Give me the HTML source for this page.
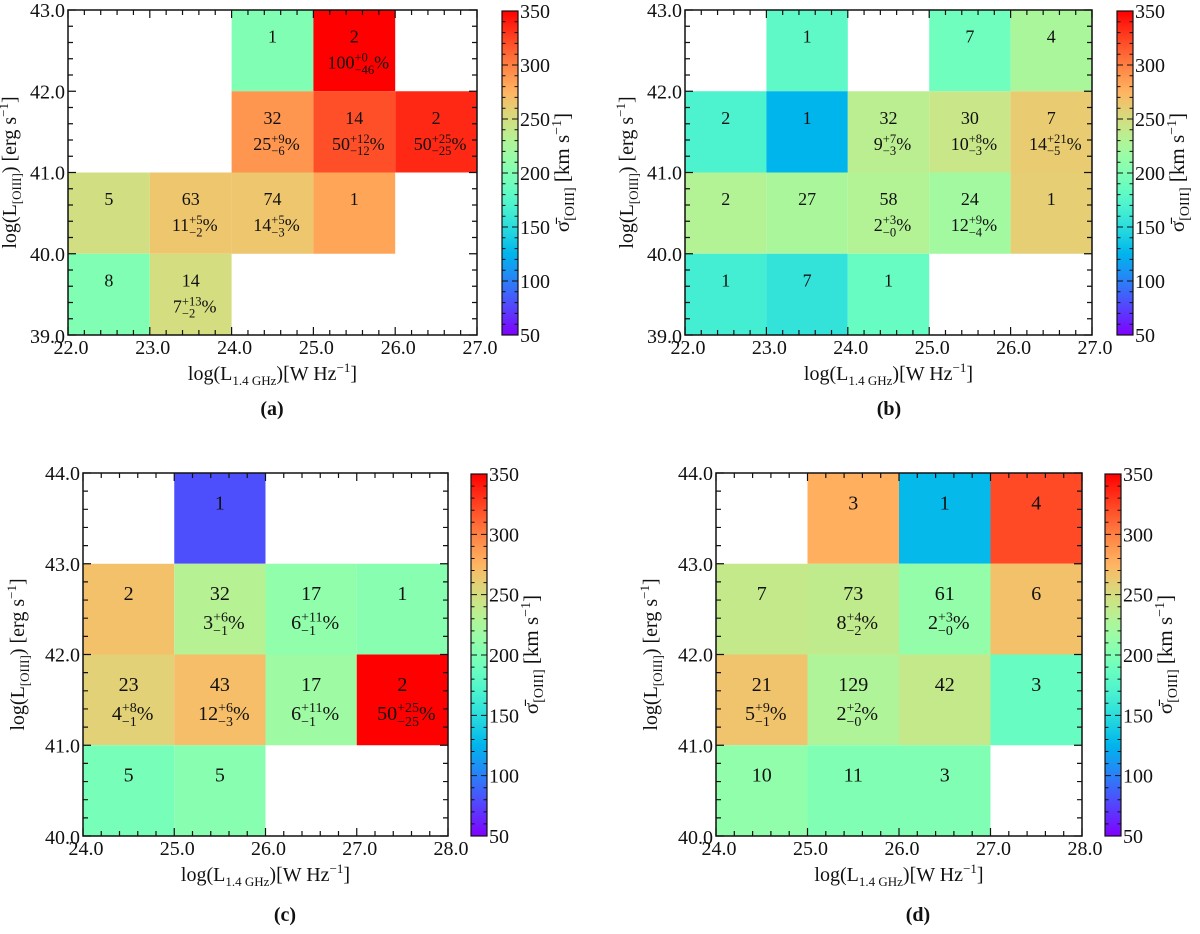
<!DOCTYPE html>
<html><head><meta charset="utf-8"><style>
body{margin:0;background:#fff;width:1200px;height:934px;overflow:hidden}
svg{display:block}
</style></head><body>
<svg id="fig" width="1200" height="934" xmlns="http://www.w3.org/2000/svg" font-family="'Liberation Serif', serif" fill="#111"></svg>
<script>
// Panel (a)
const aXBins=[24,25,24,25,26,22,23,24,25,22,23];
const aYBins=[42,42,41,41,41,40,40,40,40,39,39];
const aCounts=["1","2","32","14","2","5","63","74","1","8","14"];
const aSigma=[200,350,290,320,335,248,265,265,283,200,250];
const aPctBase=["","100","25","50","50","","11","14","","","7"];
const aPctPlus=["","+0","+9","+12","+25","","+5","+5","","","+13"];
const aPctMinus=["","−46","−6","−12","−25","","−2","−3","","","−2"];
// Panel (b)
const bXBins=[23,25,26,22,23,24,25,26,22,23,24,25,26,22,23,24];
const bYBins=[42,42,42,41,41,41,41,41,40,40,40,40,40,39,39,39];
const bCounts=["1","7","4","2","1","32","30","7","2","27","58","24","1","1","7","1"];
const bSigma=[180,190,225,170,125,235,243,262,230,225,230,220,260,165,155,185];
const bPctBase=["","","","","","9","10","14","","","2","12","","","",""];
const bPctPlus=["","","","","","+7","+8","+21","","","+3","+9","","","",""];
const bPctMinus=["","","","","","−3","−3","−5","","","−0","−4","","","",""];
// Panel (c)
const cXBins=[25,24,25,26,27,24,25,26,27,24,25];
const cYBins=[43,42,42,42,42,41,41,41,41,40,40];
const cCounts=["1","2","32","17","1","23","43","17","2","5","5"];
const cSigma=[80,268,232,210,205,258,270,218,350,195,205];
const cPctBase=["","","3","6","","4","12","6","50","",""];
const cPctPlus=["","","+6","+11","","+8","+6","+11","+25","",""];
const cPctMinus=["","","−1","−1","","−1","−3","−1","−25","",""];
// Panel (d)
const dXBins=[25,26,27,24,25,26,27,24,25,26,27,24,25,26];
const dYBins=[43,43,43,42,42,42,42,41,41,41,41,40,40,40];
const dCounts=["3","1","4","7","73","61","6","21","129","42","3","10","11","3"];
const dSigma=[278,128,322,240,238,212,268,266,228,240,185,210,200,200];
const dPctBase=["","","","","8","2","","5","2","","","","",""];
const dPctPlus=["","","","","+4","+3","","+9","+2","","","","",""];
const dPctMinus=["","","","","−2","−0","","−1","−0","","","","",""];
const xTicksAB=[22,23,24,25,26,27];
const yTicksAB=[39,40,41,42,43];
const xTicksCD=[24,25,26,27,28];
const yTicksCD=[40,41,42,43,44];
const cbTicks=[50,100,150,200,250,300,350];

const NS="http://www.w3.org/2000/svg";
const fig=document.getElementById('fig');
function el(tag,attrs,parent){const e=document.createElementNS(NS,tag);for(const k in attrs)e.setAttribute(k,attrs[k]);(parent||fig).appendChild(e);return e;}
function rainbow(v){const t=Math.max(0,Math.min(1,(v-50)/300));
 const r=Math.min(1,Math.abs(2*t-0.5)),g=Math.sin(Math.PI*t),b=Math.cos(Math.PI*t/2);
 return `rgb(${Math.round(r*255)},${Math.round(Math.max(0,g)*255)},${Math.round(Math.max(0,b)*255)})`;}

function panel(p){
 const g=el('g',{});
 
 
 const X=v=>p.x0+(v-p.xmin)/(p.xmax-p.xmin)*(p.x1-p.x0);
 const Y=v=>p.y1-(v-p.ymin)/(p.ymax-p.ymin)*(p.y1-p.y0);
 for(let i=0;i<p.xs.length;i++){
  const x=X(p.xs[i]),x2=X(p.xs[i]+1),y=Y(p.ys[i]+1),y2=Y(p.ys[i]);
  const r=el('rect',{x:x,y:y,width:x2-x,height:y2-y,fill:rainbow(p.sig[i])},g);
  
  
  const cx=(x+x2)/2,h=y2-y;
  const t=el('text',{x:cx,y:y+h*0.4,'font-size':p.fs,'text-anchor':'middle'},g);
  t.textContent=p.cnt[i];
  
  
  if(p.pb[i]){
   const sz=p.fs*0.7, by=y+h*0.72;
   const grp=el('g',{},g);
   
   
   const b=el('text',{x:0,y:by,'font-size':p.fs},grp);b.textContent=p.pb[i];
   const bw=b.getComputedTextLength();
   const sp=el('text',{x:bw,y:by-p.fs*0.38,'font-size':sz},grp);sp.textContent=p.pp[i];
   const sb=el('text',{x:bw,y:by+p.fs*0.3,'font-size':sz},grp);sb.textContent=p.pm[i];
   const sw=Math.max(sp.getComputedTextLength(),sb.getComputedTextLength());
   const pc=el('text',{x:bw+sw,y:by,'font-size':p.fs},grp);pc.textContent='%';
   const tw=bw+sw+pc.getComputedTextLength();
   grp.setAttribute('transform',`translate(${cx-tw/2+4},0)`);
  }
 }
 const fr=el('rect',{x:p.x0,y:p.y0,width:p.x1-p.x0,height:p.y1-p.y0,fill:'none',stroke:'#111','stroke-width':1.5},g);
 
 
 let tk='';
 for(let v=p.xmin;v<=p.xmax+1e-6;v+=0.2){const x=X(v);const maj=Math.abs(v-Math.round(v))<1e-6;const L=maj?8:5;
  tk+=`M${x},${p.y1}v${-L}M${x},${p.y0}v${L}`;}
 for(let v=p.ymin;v<=p.ymax+1e-6;v+=0.2){const y=Y(v);const maj=Math.abs(v-Math.round(v))<1e-6;const L=maj?8:5;
  tk+=`M${p.x0},${y}h${L}M${p.x1},${y}h${-L}`;}
 const tp=el('path',{d:tk,stroke:'#111','stroke-width':1.2,fill:'none'},g);
 
 
 p.xt.forEach(v=>{const t=el('text',{x:X(v)+3,y:p.y1+19,'font-size':20,'text-anchor':'middle'},g);t.textContent=v.toFixed(1);
  });
 p.yt.forEach(v=>{const t=el('text',{x:p.x0-3,y:Y(v)+(v===p.ymin?8:7),'font-size':20,'text-anchor':'end'},g);t.textContent=v.toFixed(1);
  });
 const xt=el('text',{x:(p.x0+p.x1)/2,y:p.y1+45,'font-size':20,'text-anchor':'middle'},g);
 
 xt.innerHTML='log(L<tspan dy="5" font-size="13">1.4 GHz</tspan><tspan dy="-5">)[W Hz</tspan><tspan dy="-8" font-size="13">−1</tspan><tspan dy="8">]</tspan>';
 const yc=(p.y0+p.y1)/2;
 const yt=el('text',{x:0,y:0,'font-size':20,'text-anchor':'middle',transform:`translate(${p.ytx},${yc}) rotate(-90)`},g);
 
 yt.innerHTML='log(L<tspan dy="5" font-size="13">[OIII]</tspan><tspan dy="-5">) [erg s</tspan><tspan dy="-8" font-size="13">−1</tspan><tspan dy="8">]</tspan>';
 const defs=el('defs',{},g);
 const gr=el('linearGradient',{id:'grad'+p.id,x1:0,y1:1,x2:0,y2:0},defs);
 for(let i=0;i<=20;i++){el('stop',{offset:i/20,'stop-color':rainbow(50+300*i/20)},gr);}
 const cb=el('rect',{x:p.cbx,y:p.y0+1,width:16,height:p.y1-p.y0-1,fill:`url(#grad${p.id})`,stroke:'#111','stroke-width':1.2},g);
 
 const CY=v=>p.y1-(v-50)/300*(p.y1-p.y0-1);
 let ct='';
 for(let v=50;v<=350;v+=10){const y=CY(v);const L=(v%50===0)?6:3.5;ct+=`M${p.cbx+16},${y}h${-L}M${p.cbx},${y}h${L}`;}
 const ctp=el('path',{d:ct,stroke:'#111','stroke-width':1,fill:'none'},g);
 
 cbTicks.forEach(v=>{const t=el('text',{x:p.cbx+18,y:CY(v)+7,'font-size':20},g);t.textContent=v;
  });
 const cl=el('text',{x:0,y:0,'font-size':21,'text-anchor':'middle',transform:`translate(${p.cbx+67},${yc}) rotate(-90)`},g);
 
 cl.innerHTML='σ̄<tspan dy="5" font-size="14">[OIII]</tspan><tspan dy="-5"> [km s</tspan><tspan dy="-8" font-size="14">−1</tspan><tspan dy="8">]</tspan>';
 const cap=el('text',{x:p.capx,y:p.capy,'font-size':20,'font-weight':'bold','text-anchor':'middle'},g);
 cap.textContent='('+p.id+')';
 
}
panel({id:'a',x0:68,x1:477,y0:10,y1:335,xmin:22,xmax:27,ymin:39,ymax:43,xs:aXBins,ys:aYBins,cnt:aCounts,sig:aSigma,pb:aPctBase,pp:aPctPlus,pm:aPctMinus,xt:xTicksAB,yt:yTicksAB,fs:18,ytx:16,cbx:502,capx:272,capy:415});
panel({id:'b',x0:685,x1:1092,y0:10,y1:335,xmin:22,xmax:27,ymin:39,ymax:43,xs:bXBins,ys:bYBins,cnt:bCounts,sig:bSigma,pb:bPctBase,pp:bPctPlus,pm:bPctMinus,xt:xTicksAB,yt:yTicksAB,fs:18,ytx:633,cbx:1117,capx:889,capy:415});
panel({id:'c',x0:83,x1:448,y0:473,y1:836,xmin:24,xmax:28,ymin:40,ymax:44,xs:cXBins,ys:cYBins,cnt:cCounts,sig:cSigma,pb:cPctBase,pp:cPctPlus,pm:cPctMinus,xt:xTicksCD,yt:yTicksCD,fs:20,ytx:24,cbx:471,capx:285,capy:921});
panel({id:'d',x0:716,x1:1082,y0:473,y1:836,xmin:24,xmax:28,ymin:40,ymax:44,xs:dXBins,ys:dYBins,cnt:dCounts,sig:dSigma,pb:dPctBase,pp:dPctPlus,pm:dPctMinus,xt:xTicksCD,yt:yTicksCD,fs:20,ytx:657,cbx:1105,capx:918,capy:921});
</script>
</body></html>
